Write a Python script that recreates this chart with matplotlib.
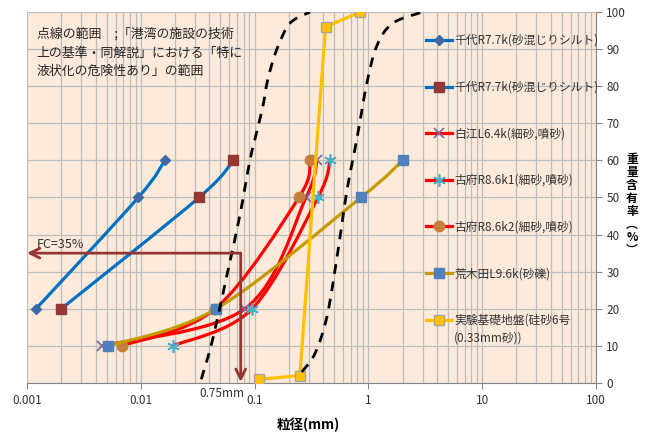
import numpy as np
import matplotlib
matplotlib.use('Agg')
import matplotlib.pyplot as plt
from matplotlib.path import Path
from matplotlib.patches import PathPatch
from matplotlib.lines import Line2D

plt.rcParams['font.family'] = ['Noto Sans CJK JP', 'DejaVu Sans']

# ---- data ----
chiyo1_x = [0.0012, 0.0095, 0.0163]
chiyo1_y = [20, 50, 60]
chiyo2_x = [0.002, 0.0325, 0.065]
chiyo2_y = [20, 50, 60]
shirae_x = [0.0046, 0.082, 0.283, 0.353]
shirae_y = [10, 20, 50, 60]
kofu1_x = [0.0192, 0.095, 0.36, 0.46]
kofu1_y = [10, 20, 50, 60]
kofu2_x = [0.0068, 0.045, 0.245, 0.307]
kofu2_y = [10, 20, 50, 60]
arakida_x = [0.0052, 0.046, 0.86, 2.0]
arakida_y = [10, 20, 50, 60]
jikken_x = [0.11, 0.25, 0.42, 0.85]
jikken_y = [1, 2, 96, 100]

# dotted range (port facilities standard)
range_lo_x = [0.034, 0.043, 0.058, 0.074, 0.091, 0.107, 0.119, 0.131, 0.157, 0.205, 0.307]
range_lo_y = [1, 12, 30, 45, 60, 69, 75, 82, 90, 97, 100]
range_hi_x = [0.26, 0.34, 0.433, 0.53, 0.649, 0.794, 0.972, 1.19, 1.64, 3.0]
range_hi_y = [3, 8, 18, 34, 52, 66, 81, 91, 97, 100]

fc_x = 0.0755
fc_y = 35

labels = ['千代R7.7k(砂混じりシルト)', '千代R7.7k(砂混じりシルト)',
          '白江L6.4k(細砂,噴砂)', '古府R8.6k1(細砂,噴砂)',
          '古府R8.6k2(細砂,噴砂)', '荒木田L9.6k(砂礫)',
          '実験基礎地盤(硅砂6号']
label_extra = '(0.33mm砂))'
note = '点線の範囲　;「港湾の施設の技術\n上の基準・同解説」における「特に\n液状化の危険性あり」の範囲'
xticks = [0.001, 0.01, 0.1, 1, 10, 100]
xticklabels = ['0.001', '0.01', '0.1', '1', '10', '100']


def smooth_path(xs, ys):
    # catmull-rom style bezier in (log x, y), like excel's smoothed lines
    pts = np.column_stack([np.log10(xs), np.asarray(ys, float)])
    ext = np.vstack([pts[0], pts, pts[-1]])
    verts = [pts[0]]
    codes = [Path.MOVETO]
    for i in range(len(pts) - 1):
        p0, p1, p2, p3 = ext[i], ext[i + 1], ext[i + 2], ext[i + 3]
        verts += [p1 + (p2 - p0) / 6, p2 - (p3 - p1) / 6, p2]
        codes += [Path.CURVE4] * 3
    verts = np.array(verts)
    verts[:, 0] = 10 ** verts[:, 0]
    return Path(verts, codes)


fig = plt.figure(figsize=(6.48, 4.37), dpi=100)
ax = fig.add_axes([27 / 648, 1 - 383 / 437, 569 / 648, 371 / 437])
ax.set_facecolor('#FDEADA')
ax.set_xscale('log')
ax.set_xlim(0.001, 100)
ax.set_ylim(0, 100)

grid_c = '#BDBDBD'
ax.grid(which='both', axis='x', color=grid_c, lw=0.9)
ax.grid(which='major', axis='y', color=grid_c, lw=0.9)
ax.set_axisbelow(True)

blue = '#0070C0'
red = '#FF0000'
gold = '#C49A00'
yellow = '#FFC000'

series = [
    (chiyo1_x, chiyo1_y, blue, dict(marker='D', ms=5.5, mfc='#3D6AA6', mec='#3D6AA6'), True),
    (chiyo2_x, chiyo2_y, blue, dict(marker='s', ms=7.5, mfc='#953735', mec='#953735'), True),
    (shirae_x, shirae_y, red, dict(marker='x', ms=7, mec='#7F5FA0', mew=1.2), True),
    (kofu1_x, kofu1_y, red, dict(marker=(6, 2, 0), ms=9, mec='#4BACC6', mew=1.2), True),
    (kofu2_x, kofu2_y, red, dict(marker='o', ms=7.5, mfc='#C47F3A', mec='#C47F3A'), True),
    (arakida_x, arakida_y, gold, dict(marker='s', ms=7.5, mfc='#4F81BD', mec='#4F81BD'), True),
    (jikken_x, jikken_y, yellow, dict(marker='s', ms=7.5, mfc=yellow, mec='#A5A5A5', mew=1), False),
]

handles = []
for i, (xs, ys, c, mk, smooth) in enumerate(series):
    z = 3 + i * 0.1
    if smooth:
        ax.add_patch(PathPatch(smooth_path(xs, ys), fc='none', ec=c, lw=2.3, zorder=z))
    else:
        ax.plot(xs, ys, color=c, lw=2.3, zorder=z)
    ax.plot(xs, ys, ls='none', zorder=z + 0.05, **mk)
    handles.append(Line2D([], [], color=c, lw=2.3, **mk))

for xs, ys in [(range_lo_x, range_lo_y), (range_hi_x, range_hi_y)]:
    ax.add_patch(PathPatch(smooth_path(xs, ys), fc='none', ec='black', lw=2,
                           ls=(0, (3.5, 2.8)), zorder=5))

arrow_c = '#943634'
ax.annotate('', xy=(0.001, fc_y), xytext=(fc_x, fc_y),
            arrowprops=dict(arrowstyle='->,head_length=0.7,head_width=0.35', color=arrow_c,
                            lw=2, shrinkA=0, shrinkB=0), zorder=6)
ax.annotate('', xy=(fc_x, 0.3), xytext=(fc_x, fc_y),
            arrowprops=dict(arrowstyle='->,head_length=0.7,head_width=0.35', color=arrow_c,
                            lw=2, shrinkA=0, shrinkB=0), zorder=6)
ax.text(0.00122, 37.3, 'FC=35%', fontsize=9, color='#333333', va='center')
ax.text(0.081, -2.7, '0.75mm', fontsize=8.5, color='#333333', ha='right', va='center', clip_on=False)
ax.text(0.00122, 95.8, note, fontsize=9.3, color='#262626', va='top', linespacing=1.55)

# axes
ax.set_xticks(xticks)
ax.set_xticklabels(xticklabels)
ax.set_yticks(range(0, 101, 10))
ax.yaxis.tick_right()
ax.tick_params(which='major', colors='#868686', labelcolor='#333333', labelsize=8.5, length=4)
ax.tick_params(axis='x', pad=4)
ax.tick_params(which='minor', length=0)
for s in ['left', 'top']:
    ax.spines[s].set_visible(False)
for s in ['bottom', 'right']:
    ax.spines[s].set_color('#868686')

fig.text(308 / 648, 1 - 425 / 437, '粒径(mm)', fontsize=9.7, fontweight='bold', ha='center', va='center')
fig.text(632 / 648, 1 - 205 / 437, '\n'.join('重量含有率︵%︶'), fontsize=8.5, fontweight='bold',
         ha='center', va='center', linespacing=1.0)

leg = ax.legend(handles, labels, loc='upper left', bbox_to_anchor=(426 / 648, 1 - 34 / 437),
                bbox_transform=fig.transFigure, frameon=False, fontsize=8.5, labelspacing=2.85,
                handlelength=2.2, handletextpad=0.2, borderpad=0, borderaxespad=0, numpoints=1)
for t in leg.get_texts():
    t.set_color('#333333')

fig.canvas.draw()
bb = leg.get_texts()[-1].get_window_extent()
fig.text(bb.x0 / 648, (bb.y0 - 5) / 437, label_extra, fontsize=8.5, color='#333333', va='top')

fig.savefig('out.png', dpi=100)
